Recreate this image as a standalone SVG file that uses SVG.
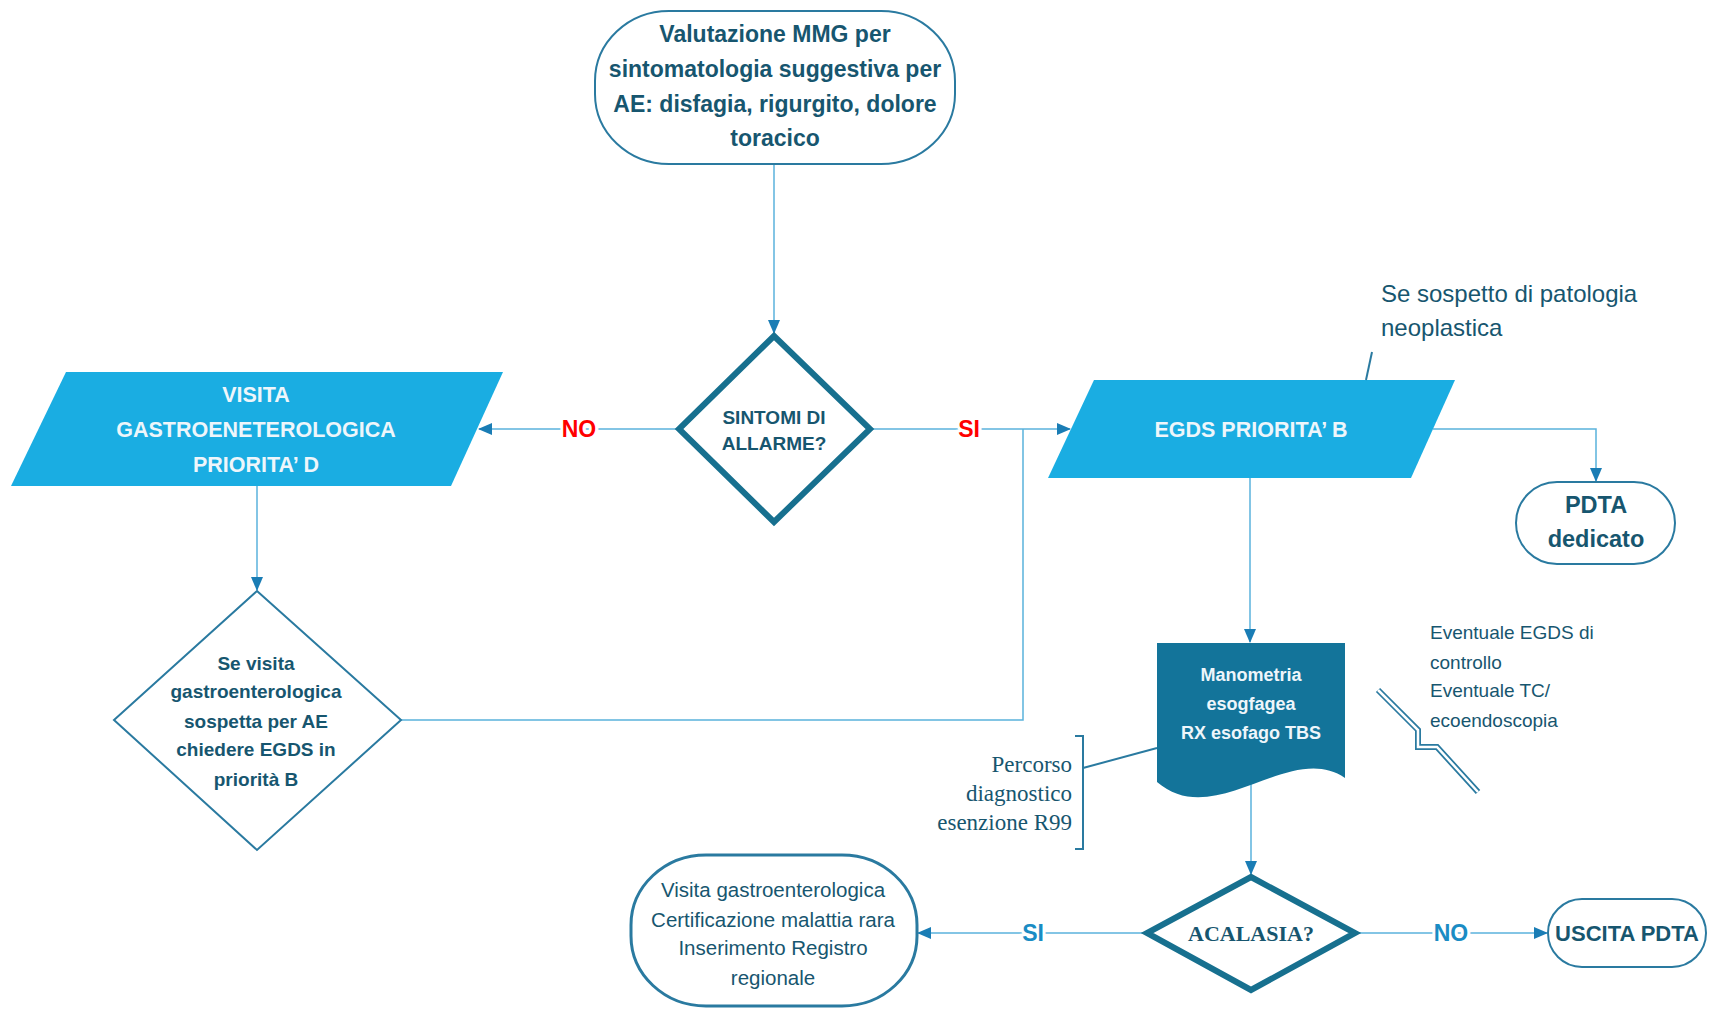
<svg xmlns="http://www.w3.org/2000/svg" width="1715" height="1010" viewBox="0 0 1715 1010">
<defs>
<style>
.bg{fill:#ffffff}
.conn{fill:none;stroke:#5ab2dc;stroke-width:1.5}
.t{font-family:"Liberation Sans",Arial,sans-serif;fill:#17566f;text-anchor:middle}
.b{font-weight:bold}
.w{fill:#eef6fb}
.ser{font-family:"Liberation Serif","Times New Roman",serif;fill:#17566f}
.red{font-family:"Liberation Sans",Arial,sans-serif;font-weight:bold;font-size:23px;fill:#ff0000;text-anchor:middle;stroke:#ffffff;stroke-width:6;paint-order:stroke}
.blue{font-family:"Liberation Sans",Arial,sans-serif;font-weight:bold;font-size:23px;fill:#1a8cc4;text-anchor:middle;stroke:#ffffff;stroke-width:6;paint-order:stroke}
.term{fill:#ffffff;stroke:#2a7aa0;stroke-width:2}
.para{fill:#1aade2}
.thick{fill:#ffffff;stroke:#17708f;stroke-width:6;stroke-linejoin:miter}
.thin{fill:#ffffff;stroke:#2a7aa0;stroke-width:2}
.ann{fill:none;stroke:#2a7aa0;stroke-width:2}
</style>
<marker id="arr" markerWidth="14" markerHeight="12" refX="13" refY="6" orient="auto" markerUnits="userSpaceOnUse">
<path d="M0,0 L14,6 L0,12 Z" fill="#1a7db5"/>
</marker>
</defs>
<rect class="bg" x="0" y="0" width="1715" height="1010"/>

<g id="connectors">
<path class="conn" d="M774,164 V333" marker-end="url(#arr)"/>
<path class="conn" d="M677,429 H479" marker-end="url(#arr)"/>
<path class="conn" d="M872,429 H1070" marker-end="url(#arr)"/>
<path class="conn" d="M1023,429 V720 H401"/>
<path class="conn" d="M257,486 V590" marker-end="url(#arr)"/>
<path class="conn" d="M1433,429 H1596 V481" marker-end="url(#arr)"/>
<path class="conn" d="M1250,478 V642" marker-end="url(#arr)"/>
<path class="conn" d="M1251,784 V874" marker-end="url(#arr)"/>
<path class="conn" d="M1145,933 H918" marker-end="url(#arr)"/>
<path class="conn" d="M1357,933 H1547" marker-end="url(#arr)"/>
<text class="red" x="579" y="437">NO</text>
<text class="red" x="969" y="437">SI</text>
<text class="blue" x="1033" y="941">SI</text>
<text class="blue" x="1451" y="941">NO</text>
</g>

<g id="start">
<rect class="term" x="595" y="11" width="360" height="153" rx="74" ry="70"/>
<text class="t b" font-size="23" x="775"><tspan x="775" y="42">Valutazione MMG per</tspan><tspan x="775" y="77">sintomatologia suggestiva per</tspan><tspan x="775" y="112">AE: disfagia, rigurgito, dolore</tspan><tspan x="775" y="146">toracico</tspan></text>
</g>

<g id="sintomi">
<polygon class="thick" points="774,336 870,429 774,522 679,429"/>
<text class="t b" font-size="19"><tspan x="774" y="424">SINTOMI DI</tspan><tspan x="774" y="450">ALLARME?</tspan></text>
</g>

<g id="visita">
<polygon class="para" points="66,372 503,372 451,486 11,486"/>
<text class="t b w" font-size="21.5"><tspan x="256" y="402">VISITA</tspan><tspan x="256" y="437">GASTROENETEROLOGICA</tspan><tspan x="256" y="472">PRIORITA’ D</tspan></text>
</g>

<g id="se-visita">
<polygon class="thin" points="257,591 401,720 257,850 114,720"/>
<text class="t b" font-size="19"><tspan x="256" y="670">Se visita</tspan><tspan x="256" y="698">gastroenterologica</tspan><tspan x="256" y="728">sospetta per AE</tspan><tspan x="256" y="756">chiedere EGDS in</tspan><tspan x="256" y="786">priorità B</tspan></text>
</g>

<g id="egds">
<polygon class="para" points="1094,380 1455,380 1411,478 1048,478"/>
<text class="t b w" font-size="21.5" x="1251" y="437">EGDS PRIORITA’ B</text>
</g>

<g id="note-neoplastica">
<path class="ann" d="M1372,352 L1366,380"/>
<text class="t" font-size="24" style="text-anchor:start"><tspan x="1381" y="302">Se sospetto di patologia</tspan><tspan x="1381" y="336">neoplastica</tspan></text>
</g>

<g id="pdta-dedicato">
<rect class="term" x="1516" y="482" width="159" height="82" rx="41" ry="41"/>
<text class="t b" font-size="23.5"><tspan x="1596" y="513">PDTA</tspan><tspan x="1596" y="547">dedicato</tspan></text>
</g>

<g id="manometria">
<path d="M1157,643 H1345 V778 C1290,740 1215,832 1157,782 Z" fill="#13749a"/>
<text class="t b w" font-size="18"><tspan x="1251" y="681">Manometria</tspan><tspan x="1251" y="710">esogfagea</tspan><tspan x="1251" y="739">RX esofago TBS</tspan></text>
</g>

<g id="note-percorso">
<path class="ann" d="M1075,736 H1083 V849 H1075"/>
<path class="ann" d="M1083,768 L1157,748"/>
<text class="ser" font-size="23" text-anchor="end"><tspan x="1072" y="772">Percorso</tspan><tspan x="1072" y="801">diagnostico</tspan><tspan x="1072" y="830">esenzione R99</tspan></text>
</g>

<g id="note-eventuale">
<path d="M1378,690 L1418,730 V747 H1437 L1478,792" fill="none" stroke="#2a7aa0" stroke-width="6" stroke-linejoin="miter"/>
<path d="M1378,690 L1418,730 V747 H1437 L1478,792" fill="none" stroke="#ffffff" stroke-width="2.5" stroke-linejoin="miter"/>
<text class="t" font-size="19" style="text-anchor:start"><tspan x="1430" y="639">Eventuale EGDS di</tspan><tspan x="1430" y="669">controllo</tspan><tspan x="1430" y="697">Eventuale TC/</tspan><tspan x="1430" y="727">ecoendoscopia</tspan></text>
</g>

<g id="acalasia">
<polygon class="thick" points="1251,877 1355,933 1251,990 1147,933"/>
<text class="ser b" font-size="22" text-anchor="middle" x="1251" y="941">ACALASIA?</text>
</g>

<g id="certificazione">
<rect class="term" x="631" y="855" width="286" height="151" rx="75" ry="70" style="stroke-width:3"/>
<text class="t" font-size="20.5"><tspan x="773" y="897">Visita gastroenterologica</tspan><tspan x="773" y="927">Certificazione malattia rara</tspan><tspan x="773" y="955">Inserimento Registro</tspan><tspan x="773" y="985">regionale</tspan></text>
</g>

<g id="uscita">
<rect class="term" x="1548" y="899" width="158" height="68" rx="34" ry="34"/>
<text class="t b" font-size="22" x="1627" y="941">USCITA PDTA</text>
</g>
</svg>
